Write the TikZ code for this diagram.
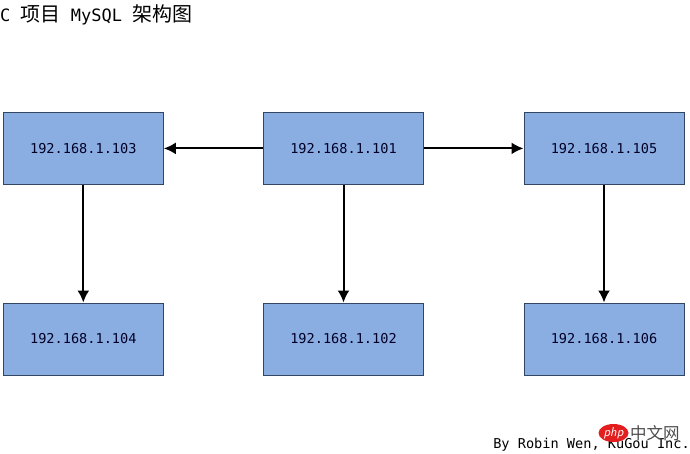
\documentclass[tikz,border=0pt]{standalone}
\usepackage{fontspec}
\setmonofont{DejaVu Sans Mono}
\newfontfamily\cjkfont{Noto Sans CJK SC}
\usetikzlibrary{arrows.meta,shapes.geometric}
\definecolor{boxfill}{RGB}{139,174,226}
\definecolor{boxline}{RGB}{50,70,100}
\definecolor{phpred}{RGB}{226,30,30}
\tikzset{
  hostbox/.style={draw=boxline,line width=1pt,fill=boxfill,minimum width=160pt,minimum height=72pt,inner sep=0pt,font=\ttfamily\fontsize{13.6}{15}\selectfont,text=black!85!blue},
  link/.style={draw=black,line width=2pt,-{Latex[length=12pt,width=12pt]}}
}
\begin{document}
\begin{tikzpicture}[x=1pt,y=-1pt]
\useasboundingbox (0,0) rectangle (690,453);
\node[anchor=west,inner sep=0pt,font=\ttfamily\fontsize{17}{20}\selectfont] (title) at (0,15) {C {\cjkfont\fontsize{20}{20}\selectfont 项目} MySQL {\cjkfont\fontsize{20}{20}\selectfont 架构图}};
\node[hostbox] (n103) at (83.3,148.4) {192.168.1.103};
\node[hostbox] (n101) at (343.5,148.4) {192.168.1.101};
\node[hostbox] (n105) at (604,148.4) {192.168.1.105};
\node[hostbox] (n104) at (83.3,339) {192.168.1.104};
\node[hostbox] (n102) at (343.5,339) {192.168.1.102};
\node[hostbox] (n106) at (604,339) {192.168.1.106};
\draw[link] (n101) -- (n103);
\draw[link] (n101) -- (n105);
\draw[link] (n103) -- (n104);
\draw[link] (n101) -- (n102);
\draw[link] (n105) -- (n106);
\node[anchor=east,inner sep=0pt,font=\ttfamily\fontsize{13.6}{15}\selectfont] (credit) at (690,445) {By Robin Wen, KuGou Inc.};
\node[ellipse,fill=phpred,minimum width=30pt,minimum height=18pt,inner sep=0pt,text=white,font=\sffamily\itshape\fontsize{13}{13}\selectfont] (logo) at (613.5,433) {php};
\node[anchor=west,inner sep=0pt,font=\cjkfont\fontsize{16.5}{16.5}\selectfont,text=black!70] (site) at (630,433) {中文网};
\end{tikzpicture}
\end{document}
